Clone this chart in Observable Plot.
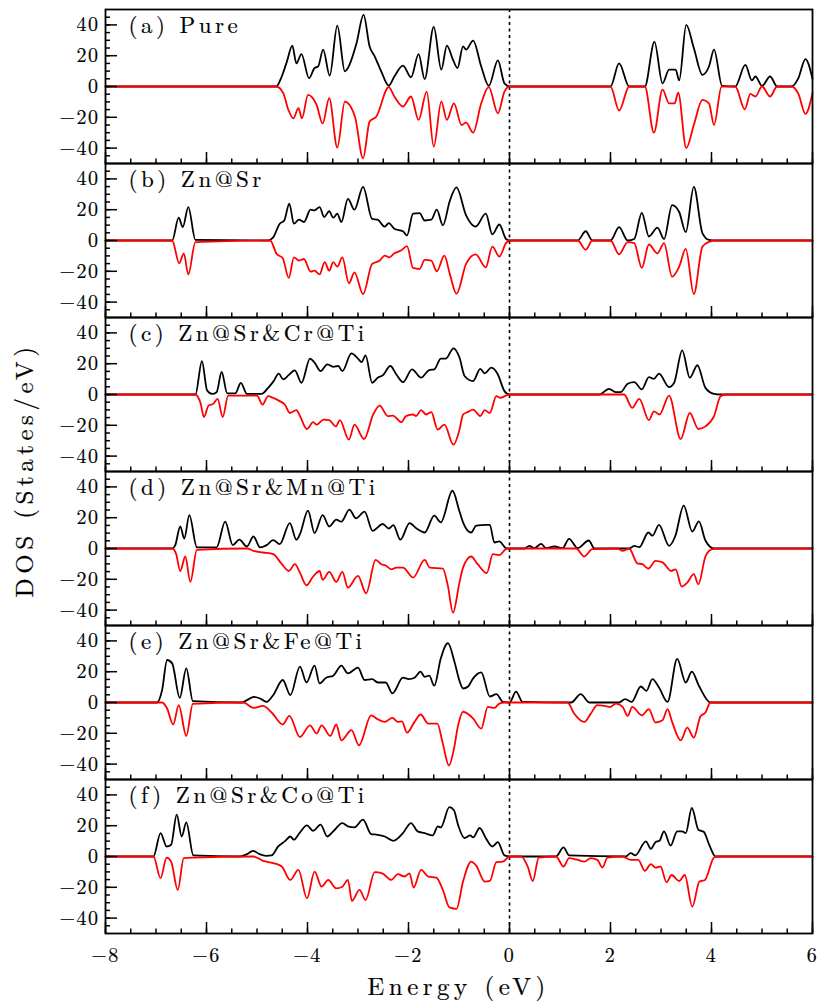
<!DOCTYPE html>
<html>
<head>
<meta charset="utf-8">
<script src="https://cdn.jsdelivr.net/npm/d3@7"></script>
<script src="https://cdn.jsdelivr.net/npm/@observablehq/plot@0.6"></script>
<style>
  body { margin: 0; background: #fff; }
  #wrap { position: relative; width: 830px; height: 1005px; font-family: "Latin Modern Roman", "Liberation Serif", serif; color: #000; }
  #chart svg { display: block; }
  #chart svg text { font-family: "Latin Modern Roman", "Liberation Serif", serif; stroke: #000; stroke-width: 0.2px; }
  #ylab { position: absolute; left: 22px; top: 470px; transform: translate(-50%, -50%) rotate(-90deg);
          font-size: 25px; letter-spacing: 4.5px; white-space: nowrap; -webkit-text-stroke: 0.2px #000; }
  #xlab { position: absolute; top: 967px; left: 105px; width: 707px; text-align: center;
          font-size: 25px; letter-spacing: 4.5px; white-space: nowrap; -webkit-text-stroke: 0.2px #000; }
</style>
</head>
<body>
<div id="wrap">
  <div id="chart"></div>
  <div id="ylab">DOS (States/eV)</div>
  <div id="xlab">Energy (eV)</div>
</div>
<script>
// Panel names
const panels = ["(a) Pure", "(b) Zn@Sr", "(c) Zn@Sr&Cr@Ti", "(d) Zn@Sr&Mn@Ti", "(e) Zn@Sr&Fe@Ti", "(f) Zn@Sr&Co@Ti"];

// Ticks
const xMajor = [-8, -6, -4, -2, 0, 2, 4, 6];
const xMinor = d3.range(-8, 6.001, 0.5);
const yMajor = [-40, -20, 0, 20, 40];
const yMinor = d3.range(-45, 46, 5);

// [energy (eV), DOS] — spin up (black) and spin down (red)
const pureUp = [[-8,0],[-4.62,0],[-4.51,6.5],[-4.41,16],[-4.3,26.5],[-4.22,15],[-4.12,21],[-3.97,5.4],[-3.86,12],[-3.79,13],[-3.69,24],[-3.56,7],[-3.41,39.5],[-3.26,9.8],[-3.2,12],[-3.03,28],[-2.89,46.5],[-2.77,26],[-2.67,19.6],[-2.54,9.8],[-2.39,0.5],[-2.28,6.5],[-2.11,13.5],[-1.95,6],[-1.8,21],[-1.68,4.8],[-1.5,38.7],[-1.35,10.9],[-1.24,26.5],[-1.12,17.4],[-1.03,12],[-0.92,26],[-0.86,24],[-0.72,29.8],[-0.56,13],[-0.41,0.4],[-0.23,17],[-0.1,2],[0,0],[2.0,0],[2.17,15],[2.37,0],[2.68,0],[2.87,29],[3.03,2],[3.16,11],[3.29,11],[3.36,4],[3.5,40],[3.65,25],[3.82,7.6],[3.95,13],[4.05,24],[4.21,0.4],[4.47,0],[4.67,14],[4.8,4],[4.87,6.5],[5.0,0.4],[5.16,6.5],[5.3,0],[5.59,0],[5.72,5.4],[5.86,17.8],[6,5]];
const pureDn = [[-8,0],[-4.62,0],[-4.48,-4.3],[-4.38,-15],[-4.28,-20.7],[-4.18,-14],[-4.11,-20.7],[-3.99,-5.4],[-3.82,-12],[-3.7,-24],[-3.57,-7.6],[-3.41,-39.6],[-3.26,-9.8],[-3.06,-19.6],[-2.9,-46.7],[-2.77,-22.8],[-2.64,-19.6],[-2.39,-0.4],[-2.28,-6.5],[-2.11,-13],[-1.95,-6.5],[-1.8,-21.7],[-1.64,-3.3],[-1.5,-39],[-1.35,-9.8],[-1.24,-21.7],[-1.1,-10.9],[-0.95,-25],[-0.86,-23.5],[-0.72,-30],[-0.56,-10.9],[-0.41,-0.4],[-0.23,-17.4],[-0.1,-3.3],[0,0],[2.0,0],[2.17,-15.6],[2.37,0],[2.68,0],[2.86,-30],[3.03,-2],[3.16,-10.9],[3.27,-10.9],[3.34,-4],[3.5,-40],[3.65,-25],[3.82,-8.7],[3.95,-10.9],[4.05,-25],[4.2,0],[4.47,0],[4.66,-14.8],[4.77,-4.8],[4.87,-6.5],[5.0,0],[5.16,-6.5],[5.3,0],[5.59,0],[5.72,-4.8],[5.86,-17.8],[6,-4.3]];

const znSrUp = [[-8,0],[-6.68,0],[-6.55,14.8],[-6.47,8.7],[-6.36,21.7],[-6.22,0.4],[-4.78,0],[-4.68,2],[-4.55,10.9],[-4.46,13],[-4.36,24],[-4.27,10.9],[-4.17,13.5],[-4.07,12],[-3.94,20],[-3.86,19.6],[-3.76,21.7],[-3.67,15.2],[-3.57,19],[-3.49,14.8],[-3.41,17.4],[-3.33,12],[-3.2,27],[-3.07,20],[-2.9,34.8],[-2.72,14],[-2.61,13.5],[-2.47,9],[-2.39,11.3],[-2.28,7.6],[-2.11,6],[-2.03,3.3],[-1.91,17.4],[-1.78,17.8],[-1.68,13],[-1.55,13.5],[-1.44,20],[-1.32,9.8],[-1.18,26],[-1.05,34.5],[-0.86,16.3],[-0.67,9],[-0.47,17.4],[-0.34,4],[-0.2,10.4],[-0.07,1],[0,0],[1.35,0],[1.51,6],[1.64,0],[2.0,0],[2.17,8.7],[2.34,0],[2.47,1],[2.62,18],[2.76,2.6],[2.93,8.3],[3.06,1],[3.22,23],[3.36,18.5],[3.49,5.4],[3.65,34.8],[3.82,4.8],[3.95,0.4],[4.08,0],[6,0]];
const znSrDn = [[-8,0],[-6.68,0],[-6.54,-14.8],[-6.45,-8.3],[-6.36,-22],[-6.22,-1],[-4.74,0],[-4.61,-8.7],[-4.49,-11.5],[-4.37,-24.3],[-4.27,-10.9],[-4.17,-13],[-4.07,-12],[-3.94,-20.2],[-3.86,-19.6],[-3.76,-22],[-3.66,-14],[-3.57,-19.6],[-3.49,-14],[-3.41,-17],[-3.31,-10.9],[-3.18,-27.8],[-3.07,-20.7],[-2.9,-34.8],[-2.72,-15.2],[-2.57,-13],[-2.47,-9.8],[-2.38,-10.9],[-2.28,-8.3],[-2.15,-6.5],[-2.03,-3.7],[-1.91,-17.8],[-1.78,-18.5],[-1.68,-12.6],[-1.55,-13],[-1.44,-20],[-1.29,-9.8],[-1.18,-22],[-1.05,-34.5],[-0.86,-15.2],[-0.67,-9],[-0.47,-17.4],[-0.34,-4],[-0.2,-10.4],[-0.07,-1.7],[0,0],[1.35,0],[1.51,-6],[1.64,0],[2.0,0],[2.17,-9],[2.34,-1],[2.47,-1.7],[2.62,-17.8],[2.76,-2.6],[2.93,-8.3],[3.06,-1.7],[3.22,-23.5],[3.36,-17],[3.49,-5.4],[3.65,-34.8],[3.82,-4],[3.95,-0.9],[4.08,0],[6,0]];

const crUp = [[-8,0],[-6.22,0],[-6.09,21.7],[-5.99,2.8],[-5.89,0.4],[-5.8,1.5],[-5.7,14.6],[-5.59,0.7],[-5.43,0.7],[-5.32,7.6],[-5.2,0.4],[-4.91,0.4],[-4.78,4.3],[-4.67,8.7],[-4.57,13.5],[-4.48,9.8],[-4.38,12.4],[-4.25,15.7],[-4.12,7.6],[-3.95,23.3],[-3.86,20.7],[-3.74,15.2],[-3.61,19.6],[-3.49,18],[-3.39,18.5],[-3.31,15.2],[-3.13,26.7],[-3.0,23.3],[-2.93,21],[-2.85,25.4],[-2.72,7.6],[-2.61,10.9],[-2.51,12.4],[-2.36,18.5],[-2.24,13],[-2.11,8],[-1.93,16.3],[-1.75,10.9],[-1.59,15.9],[-1.49,16.3],[-1.36,23.3],[-1.26,23.3],[-1.11,30],[-0.99,24],[-0.89,12],[-0.72,8.7],[-0.58,16.7],[-0.49,13.7],[-0.36,17.4],[-0.23,13],[-0.1,2.2],[0,0],[1.78,0],[1.97,3.7],[2.11,1.5],[2.2,1.5],[2.34,7],[2.47,8],[2.62,3.3],[2.76,11.3],[2.86,10.2],[2.96,13.5],[3.16,4.8],[3.26,7.6],[3.42,28.7],[3.57,10.9],[3.72,19],[3.88,4.3],[4.05,0.4],[4.18,0],[6,0]];
const crDn = [[-8,0],[-6.22,0],[-6.12,-5.4],[-6.05,-14.6],[-5.96,-7.2],[-5.86,-5.9],[-5.78,-2.8],[-5.68,-14.6],[-5.57,-0.7],[-5.0,-0.7],[-4.89,-6.5],[-4.78,-1.1],[-4.68,-2.2],[-4.55,-4.3],[-4.45,-6.5],[-4.35,-12],[-4.22,-10.2],[-4.15,-14],[-4.01,-22.4],[-3.89,-18],[-3.82,-19.6],[-3.68,-16.3],[-3.57,-16.7],[-3.44,-20.7],[-3.36,-16.7],[-3.18,-29.3],[-3.07,-19.6],[-2.88,-28.9],[-2.7,-13],[-2.57,-7.2],[-2.41,-14],[-2.31,-13.7],[-2.14,-18],[-2.05,-14],[-1.91,-13],[-1.85,-14],[-1.75,-10.2],[-1.65,-13],[-1.55,-11.5],[-1.42,-22.8],[-1.29,-19.6],[-1.11,-32.6],[-0.99,-22.8],[-0.92,-13],[-0.82,-11.3],[-0.72,-9.8],[-0.58,-14],[-0.49,-10.2],[-0.39,-12],[-0.26,-1.1],[-0.18,-2.2],[-0.07,-0.7],[0,0],[2.27,0],[2.43,-8.7],[2.57,-2.8],[2.76,-16.7],[2.86,-10.9],[2.97,-13],[3.16,-0.7],[3.39,-29],[3.57,-12],[3.74,-22.4],[3.88,-20.7],[4.05,-14],[4.18,-1.1],[4.28,0],[6,0]];

const mnUp = [[-8,0],[-6.68,0],[-6.62,2],[-6.52,14.3],[-6.44,6.5],[-6.34,21.7],[-6.19,0.7],[-5.8,0.7],[-5.63,17.4],[-5.48,2.2],[-5.35,5.7],[-5.2,1.3],[-5.07,7.8],[-4.94,0.7],[-4.81,2.2],[-4.68,5.4],[-4.55,2.8],[-4.35,16.5],[-4.22,5.7],[-4.15,9.3],[-3.99,24.6],[-3.86,10],[-3.7,21.7],[-3.57,14.3],[-3.43,18.7],[-3.33,17.4],[-3.17,25.2],[-3.04,19.6],[-2.87,23.9],[-2.71,11.5],[-2.51,15.9],[-2.39,13],[-2.3,15.2],[-2.16,5.7],[-1.98,16.5],[-1.84,13],[-1.68,10.4],[-1.49,21.3],[-1.36,17],[-1.13,37.5],[-0.99,24],[-0.92,17],[-0.76,10.4],[-0.66,14.8],[-0.46,15.4],[-0.39,15.4],[-0.3,3.9],[-0.2,4.6],[-0.07,0.2],[0,0],[0.3,0],[0.39,1.7],[0.49,0.2],[0.63,3],[0.72,0.2],[0.89,1.3],[1.05,0.2],[1.18,6.3],[1.35,0.2],[1.57,5.2],[1.68,0],[2.37,0],[2.47,1.7],[2.57,0.9],[2.75,10.4],[2.83,8.3],[2.96,15.4],[3.16,1.7],[3.28,7.8],[3.45,27.8],[3.62,11],[3.75,17.6],[3.88,5.2],[4.05,0],[6,0]];
const mnDn = [[-8,0],[-6.68,0],[-6.6,-3.7],[-6.52,-14.6],[-6.42,-5.2],[-6.32,-21.7],[-6.19,-0.9],[-5.2,0],[-5.07,-1.5],[-4.88,-2.6],[-4.68,-3.7],[-4.52,-9.6],[-4.37,-14.6],[-4.25,-10.2],[-4.15,-15.7],[-4.02,-23.9],[-3.89,-18.3],[-3.76,-14.6],[-3.7,-20.4],[-3.57,-15.2],[-3.43,-21.7],[-3.31,-15.2],[-3.2,-25.4],[-3.0,-17.8],[-2.84,-29.1],[-2.65,-7.4],[-2.54,-10.2],[-2.46,-10.9],[-2.34,-13.5],[-2.24,-12.4],[-2.11,-12.4],[-1.91,-18.9],[-1.68,-7.4],[-1.58,-12.4],[-1.32,-13],[-1.22,-24.3],[-1.12,-41.7],[-0.99,-22],[-0.92,-12.4],[-0.76,-5.2],[-0.63,-10.2],[-0.45,-16],[-0.33,-3.7],[-0.2,-4.3],[-0.07,-0.4],[0,0],[1.32,0],[1.48,-5.2],[1.64,-0.4],[2.14,0],[2.24,-1.5],[2.37,0],[2.53,-9.6],[2.63,-10.2],[2.75,-13],[2.89,-8],[3.03,-9],[3.2,-14.6],[3.29,-13.5],[3.41,-24.8],[3.52,-22.2],[3.65,-16.7],[3.74,-23.3],[3.88,-5.2],[4.01,-0.4],[4.1,0],[6,0]];

const feUp = [[-8,0],[-6.98,0],[-6.88,8],[-6.78,27.6],[-6.68,25.4],[-6.53,3],[-6.4,22.2],[-6.27,0.9],[-5.3,0],[-5.2,1.5],[-5.06,3.7],[-4.94,2.6],[-4.81,0.4],[-4.68,4.8],[-4.49,14.6],[-4.34,4.8],[-4.15,23.3],[-4.02,13],[-3.86,23.9],[-3.76,12.4],[-3.63,16.1],[-3.49,17.4],[-3.33,23.9],[-3.2,18.9],[-3.0,22.6],[-2.87,14.6],[-2.72,15.2],[-2.61,13],[-2.45,13],[-2.32,5.9],[-2.11,16.1],[-1.99,15.2],[-1.88,16.1],[-1.76,20],[-1.68,16.7],[-1.59,17.4],[-1.49,10.9],[-1.36,28.7],[-1.22,38.5],[-1.09,26.5],[-0.99,14],[-0.92,9.1],[-0.82,10.4],[-0.72,15.7],[-0.56,19.6],[-0.39,3.9],[-0.26,5.4],[-0.13,0.4],[0,0],[0.13,7],[0.26,0.4],[1.22,0],[1.41,5.4],[1.58,0],[2.17,0],[2.29,2.2],[2.42,0.4],[2.6,10.4],[2.71,7.6],[2.83,15.2],[2.96,9.8],[3.13,0.4],[3.32,28.3],[3.49,13],[3.61,20],[3.75,10.9],[3.98,0],[6,0]];
const feDn = [[-8,0],[-6.88,0],[-6.78,-3.9],[-6.66,-14.3],[-6.55,-1.7],[-6.4,-21.7],[-6.27,-0.9],[-5.27,0],[-5.07,-3.5],[-4.88,-2.2],[-4.71,-6.5],[-4.49,-14.3],[-4.36,-8.7],[-4.15,-22.4],[-3.95,-14.8],[-3.82,-20.2],[-3.72,-14.8],[-3.55,-21.7],[-3.43,-14.3],[-3.33,-24.6],[-3.13,-18],[-2.98,-27.8],[-2.74,-8.3],[-2.61,-10.9],[-2.47,-12.6],[-2.32,-10],[-2.21,-12.6],[-2.13,-12.2],[-2.03,-19.6],[-1.88,-12.6],[-1.76,-7.8],[-1.61,-13.7],[-1.43,-13.7],[-1.32,-26.7],[-1.2,-40.9],[-1.1,-30],[-1.02,-15.2],[-0.92,-6],[-0.72,-10.4],[-0.56,-17],[-0.43,-2.8],[-0.3,-3.5],[-0.2,-0.7],[-0.1,0],[1.15,0],[1.28,-7.2],[1.48,-12.6],[1.61,-7.2],[1.74,-1.7],[1.88,-2.2],[2.0,-2.8],[2.11,-0.7],[2.24,-2.8],[2.34,-8.7],[2.43,-2.8],[2.62,-8.3],[2.76,-4.3],[2.89,-13],[3.03,-11.5],[3.13,-4.3],[3.22,-12.6],[3.39,-24.6],[3.52,-16.3],[3.65,-22.8],[3.78,-9.1],[3.88,-6.5],[3.98,0],[6,0]];

const coUp = [[-8,0],[-7.05,0],[-6.91,15.2],[-6.79,6.5],[-6.7,7.6],[-6.59,27.2],[-6.49,13],[-6.4,22.2],[-6.26,0.7],[-5.34,0],[-5.2,1.5],[-5.08,3.7],[-4.95,1.5],[-4.82,0.4],[-4.71,0.7],[-4.58,6.5],[-4.45,9.8],[-4.34,13],[-4.27,10.9],[-4.16,15.2],[-4.01,20.2],[-3.89,16.7],[-3.74,20.7],[-3.61,13],[-3.49,16.3],[-3.31,21.7],[-3.2,19.6],[-3.07,18.9],[-2.9,23.9],[-2.74,14.6],[-2.61,14.1],[-2.47,13],[-2.3,10.2],[-2.11,15.2],[-1.95,21.7],[-1.82,16.3],[-1.68,15.2],[-1.52,13.7],[-1.42,19.6],[-1.36,18.9],[-1.19,32],[-1.1,30],[-1.02,20.7],[-0.89,12],[-0.78,13.7],[-0.72,12.4],[-0.59,18.5],[-0.47,12],[-0.34,6.5],[-0.23,9.3],[-0.1,0.7],[0,0],[0.92,0],[1.07,5.9],[1.18,0.7],[2.3,0],[2.4,2.2],[2.49,0.7],[2.7,9.8],[2.8,5],[2.89,9.3],[2.97,10.2],[3.06,16.3],[3.19,7],[3.32,16.3],[3.42,16.3],[3.49,15.2],[3.61,31.5],[3.74,17.4],[3.85,15.9],[3.95,8],[4.08,0],[6,0]];
const coDn = [[-8,0],[-7.05,0],[-6.91,-14.1],[-6.79,-0.7],[-6.7,-3.3],[-6.57,-21.7],[-6.45,-1.1],[-6.26,-0.7],[-5.07,0],[-4.88,-2.8],[-4.68,-4.3],[-4.51,-6.5],[-4.34,-15.2],[-4.18,-8.7],[-4.01,-27.2],[-3.86,-9.8],[-3.72,-19.6],[-3.59,-15.2],[-3.43,-20.7],[-3.31,-19.6],[-3.2,-15.2],[-3.12,-28.9],[-2.97,-21.7],[-2.85,-28.3],[-2.67,-10.2],[-2.52,-10.9],[-2.34,-15.2],[-2.21,-11.5],[-2.08,-13],[-1.98,-10.9],[-1.9,-20.2],[-1.75,-8.7],[-1.61,-13],[-1.45,-13.7],[-1.32,-21.7],[-1.19,-33],[-1.05,-34],[-0.92,-16.3],[-0.76,-3.3],[-0.66,-5.9],[-0.49,-16.3],[-0.39,-15.9],[-0.26,-3.7],[-0.13,-3.3],[0,0],[0.23,0],[0.36,-6.5],[0.46,-15.9],[0.58,-0.7],[0.92,0],[1.07,-6.5],[1.18,-1.1],[1.35,-2.2],[1.48,-3.3],[1.61,-1.1],[1.74,-2.2],[1.84,-7.2],[1.94,-0.7],[2.24,0],[2.4,-2.2],[2.55,-2.2],[2.68,-9.3],[2.8,-5],[2.89,-7.2],[2.99,-6.5],[3.11,-16.7],[3.21,-12],[3.36,-15.9],[3.47,-12],[3.62,-32.6],[3.76,-16.3],[3.87,-15.2],[4.05,-0.7],[4.12,0],[6,0]];

const spinUp = [pureUp, znSrUp, crUp, mnUp, feUp, coUp];
const spinDn = [pureDn, znSrDn, crDn, mnDn, feDn, coDn];

const toRows = (list) => list.flatMap((pts, i) => pts.map(([e, d]) => ({panel: panels[i], e, d})));
const upRows = toRows(spinUp);
const dnRows = toRows(spinDn);

const chart = Plot.plot({
  width: 830,
  height: 975,
  marginLeft: 105,
  marginRight: 18,
  marginTop: 8,
  marginBottom: 42,
  style: {fontSize: "20px", letterSpacing: "1.5px", background: "white", color: "black"},
  x: {domain: [-8, 6]},
  y: {domain: [-50, 50]},
  fy: {domain: panels, padding: 0, axis: null, label: null},
  marks: [
    Plot.ruleX([0], {stroke: "black", strokeWidth: 1.6, strokeDasharray: "3,3.5"}),
    Plot.line(upRows, {x: "e", y: "d", fy: "panel", stroke: "black", strokeWidth: 1.8, curve: "monotone-x"}),
    Plot.line(dnRows, {x: "e", y: "d", fy: "panel", stroke: "#ff0000", strokeWidth: 1.8, curve: "monotone-x"}),
    Plot.axisX({ticks: xMajor, tickSize: 11, dy: -11, fill: "none", label: null, facetAnchor: null, strokeWidth: 1.5}),
    Plot.axisX({ticks: xMinor, tickSize: 4.5, dy: -4.5, fill: "none", label: null, facetAnchor: null, strokeWidth: 1.5}),
    Plot.axisX({ticks: xMajor, tickSize: 0, tickPadding: 14, label: null}),
    Plot.axisY({ticks: yMajor, tickSize: 12, dx: 12, fill: "none", label: null, strokeWidth: 1.5}),
    Plot.axisY({ticks: yMinor, tickSize: 5, dx: 5, fill: "none", label: null, strokeWidth: 1.5}),
    Plot.axisY({ticks: yMajor, tickSize: 0, tickPadding: 6, label: null}),
    Plot.text(panels, {fy: (d) => d, text: (d) => d, frameAnchor: "top-left", dx: 23, dy: 7, lineAnchor: "top", textAnchor: "start", fontSize: 23}),
    Plot.frame({stroke: "black", strokeWidth: 1.8})
  ]
});
// wider tracking for the panel captions
chart.querySelectorAll('g[aria-label="text"]').forEach((g) => { g.style.letterSpacing = "3.5px"; });
document.getElementById("chart").appendChild(chart);
</script>
</body>
</html>
